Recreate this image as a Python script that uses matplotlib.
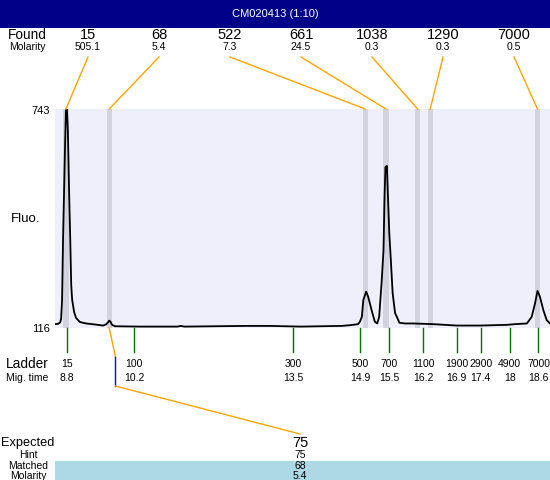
import matplotlib
matplotlib.use('Agg')
import matplotlib.pyplot as plt

title = 'CM020413 (1:10)'

# found peaks
found_size = [15, 68, 522, 661, 1038, 1290, 7000]
found_molarity = [505.1, 5.4, 7.3, 24.5, 0.3, 0.3, 0.5]
found_time = [8.78, 9.68, 15.00, 15.43, 16.09, 16.35, 18.58]

# ladder
ladder_size = [15, 100, 300, 500, 700, 1100, 1900, 2900, 4900, 7000]
ladder_time = [8.8, 10.2, 13.5, 14.9, 15.5, 16.2, 16.9, 17.4, 18, 18.6]

# electropherogram trace
trace_time = [8.55, 8.62, 8.66, 8.68, 8.70, 8.72, 8.76, 8.78, 8.80, 8.82, 8.85, 8.87,
              8.89, 8.91, 8.95, 8.99, 9.07, 9.20, 9.39, 9.55, 9.61, 9.66, 9.68, 9.70,
              9.74, 9.80, 10.32, 11.10, 11.17, 11.24, 12.50, 13.02, 13.65, 14.51, 14.68,
              14.85, 14.89, 14.93, 14.96, 15.02, 15.06, 15.14, 15.20, 15.25, 15.29,
              15.34, 15.38, 15.40, 15.42, 15.45, 15.47, 15.50, 15.54, 15.57, 15.62,
              15.67, 15.71, 15.83, 16.00, 16.42, 16.90, 17.39, 17.94, 18.11, 18.36,
              18.46, 18.53, 18.58, 18.63, 18.70, 18.77, 18.84]
trace_fluo = [127, 128, 132, 142, 196, 368, 626, 740, 743, 683, 482, 368,
              239, 196, 162, 145, 133, 129, 126, 123, 126, 133, 137, 135,
              125, 121, 120, 120, 122, 120, 122, 122, 120, 122, 124,
              127, 134, 148, 196, 220, 206, 163, 134, 129, 148,
              245, 339, 482, 577, 580, 502, 388, 291, 216, 159,
              144, 131, 129, 129, 127, 123, 123, 125, 127, 129,
              148, 187, 222, 206, 168, 139, 129]
fluo_min, fluo_max = 116, 743

# expected fragment
expected_size = 75
hint_size = 75
matched_size = 68
matched_molarity = 5.4
expected_time = 9.81

plt.rcParams['font.family'] = ['Liberation Sans', 'DejaVu Sans']

W, H = 550, 480
fig = plt.figure(figsize=(5.5, 4.8), dpi=100)

# plot area in pixels
px_left, px_right, px_top, px_bottom = 55, 550, 109, 328
ax = fig.add_axes([px_left / W, 1 - px_bottom / H, (px_right - px_left) / W, (px_bottom - px_top) / H])
t0, t1 = 8.553, 18.84
ax.set_xlim(t0, t1)
ax.set_ylim(fluo_min, fluo_max)
ax.set_facecolor('#efeffb')
for s in ax.spines.values():
    s.set_visible(False)
ax.set_xticks([])
ax.set_yticks([])

for t in found_time:
    ax.axvspan(t - 0.055, t + 0.055, color='#d3d3e0', lw=0, zorder=1)
ax.plot(trace_time, trace_fluo, color='black', lw=1.3, zorder=3)

# overlay in pixel coordinates
ov = fig.add_axes([0, 0, 1, 1], zorder=5)
ov.set_xlim(0, W)
ov.set_ylim(H, 0)
ov.axis('off')


def tx(t):
    return px_left + (t - t0) / (t1 - t0) * (px_right - px_left)


big = 10.5
label = 9.8
small = 7.5

# title bar
ov.add_patch(plt.Rectangle((0, 0), W, 28, color='#000088', lw=0))
ov.text(275, 14, title, color='white', ha='center', va='center', fontsize=8)

# found row
ov.text(27, 35, 'Found', ha='center', va='center', fontsize=label)
ov.text(27, 47, 'Molarity', ha='center', va='center', fontsize=small)
for i, (sz, mol, t) in enumerate(zip(found_size, found_molarity, found_time)):
    x = 88 + 71 * i
    ov.text(x, 35, str(sz), ha='center', va='center', fontsize=big)
    ov.text(x, 47, f'{mol:g}', ha='center', va='center', fontsize=small)
    ov.plot([x, tx(t)], [57, px_top], color='orange', lw=1)

# y labels
ov.text(41, 111, str(fluo_max), ha='center', va='center', fontsize=8)
ov.text(41, 329, str(fluo_min), ha='center', va='center', fontsize=8)
ov.text(26, 219, 'Fluo.', ha='center', va='center', fontsize=9.5)

# ladder
ov.text(27, 364, 'Ladder', ha='center', va='center', fontsize=label)
ov.text(27, 378, 'Mig. time', ha='center', va='center', fontsize=small)
for sz, t in zip(ladder_size, ladder_time):
    x = tx(t)
    ov.plot([x, x], [px_bottom, 352], color='#007000', lw=1)
    ov.text(x, 364, str(sz), ha='center', va='center', fontsize=small)
    ov.text(x, 378, f'{t:g}', ha='center', va='center', fontsize=small)

# matched fragment connector
xm = tx(found_time[found_size.index(matched_size)])
xe = tx(expected_time)
ov.plot([xm, xe], [px_bottom, 357], color='orange', lw=1)
ov.plot([xe, xe], [357, 386], color='blue', lw=1)
ov.plot([xe, 300], [386, 434], color='orange', lw=1)

# expected table
ov.add_patch(plt.Rectangle((55, 461), 495, 19, color='#add8e6', lw=0))
ov.text(28, 443, 'Expected', ha='center', va='center', fontsize=9.2)
ov.text(28, 455, 'Hint', ha='center', va='center', fontsize=small)
ov.text(28, 466, 'Matched', ha='center', va='center', fontsize=small)
ov.text(28, 476, 'Molarity', ha='center', va='center', fontsize=small)
ov.text(300, 443, str(expected_size), ha='center', va='center', fontsize=big)
ov.text(300, 455, str(hint_size), ha='center', va='center', fontsize=small)
ov.text(300, 466, str(matched_size), ha='center', va='center', fontsize=small)
ov.text(300, 476, f'{matched_molarity:g}', ha='center', va='center', fontsize=small)

fig.savefig('out.png', dpi=100)
